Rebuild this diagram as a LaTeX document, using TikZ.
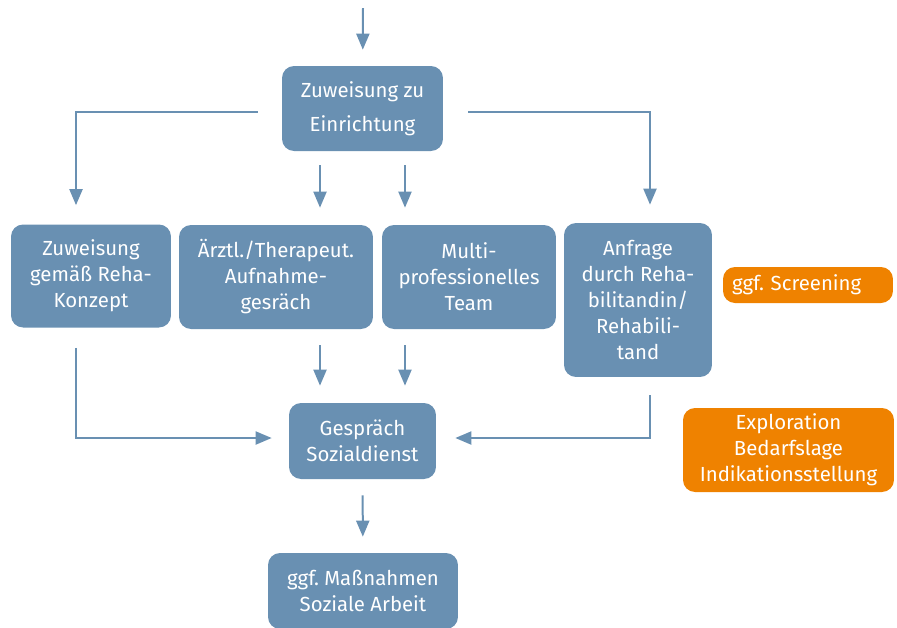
\documentclass[tikz,border=0pt]{standalone}
\usepackage{fontspec}
\setmainfont{Fira Sans}
\usetikzlibrary{arrows.meta}
\definecolor{rehablue}{HTML}{6990B2}
\definecolor{rehaorange}{HTML}{EF8200}
\frenchspacing
\tikzset{
	box/.style={fill=rehablue, text=white, rounded corners=0.24cm, align=center, inner sep=0pt, font=\fontsize{11.6}{14.8}\selectfont},
	hint/.style={box, fill=rehaorange},
	arr/.style={draw=rehablue, line width=0.04cm, -{Triangle[length=0.32cm,width=0.26cm]}},
}

\begin{document}
\begin{tikzpicture}[x=0.02cm, y=-0.02cm]
			\useasboundingbox (0,0) rectangle (897,627);
			\coordinate (start) at (363,8);
			\node	(ein) at (362.5,108.5) [box, minimum width=3.22cm, minimum height=1.7cm, font=\fontsize{11.6}{19.4}\selectfont] {Zuweisung zu\\Einrichtung};
			\node	(konz) at (91,276) [box, minimum width=3.2cm, minimum height=2.06cm] {Zuweisung\\gemäß Reha-\\Konzept};
			\node	(arzt) at (276,277) [box, minimum width=3.88cm, minimum height=2.08cm] {Ärztl./Therapeut.\\Aufnahme-\\gesräch};
			\node	(team) at (469,277) [box, minimum width=3.48cm, minimum height=2.08cm] {Multi-\\professionelles\\Team};
			\node	(anfr) at (638,300) [box, minimum width=2.96cm, minimum height=3.08cm] {Anfrage\\durch Reha-\\bilitandin/\\Rehabili-\\tand};
			\node	(scr) at (808,285) [hint, minimum height=0.72cm, text width=3.04cm, inner xsep=0.18cm, align=left] {ggf. Screening};
			\node	(gesp) at (362.5,441) [box, minimum width=2.94cm, minimum height=1.52cm] {Gespräch\\Sozialdienst};
			\node	(expl) at (788.5,450) [hint, minimum width=4.22cm, minimum height=1.68cm] {Exploration\\Bedarfslage\\Indikationsstellung};
			\node	(mass) at (363,591) [box, minimum width=3.8cm, minimum height=1.52cm] {ggf. Maßnahmen\\Soziale Arbeit};
			% straight arrows
			\draw 
			(start) edge[arr, shorten >=0.32cm] (ein)
			([xshift=-0.85cm]ein.south) edge[arr, shorten <=0.28cm, shorten >=0.34cm] ([xshift=-0.85cm]ein.south |- arzt.north)
			([xshift=0.85cm]ein.south) edge[arr, shorten <=0.28cm, shorten >=0.34cm] ([xshift=0.85cm]ein.south |- team.north)
			([xshift=-0.85cm]gesp.north |- arzt.south) edge[arr, shorten <=0.32cm, shorten >=0.34cm] ([xshift=-0.85cm]gesp.north)
			([xshift=0.85cm]gesp.north |- team.south) edge[arr, shorten <=0.32cm, shorten >=0.34cm] ([xshift=0.85cm]gesp.north)
			(gesp) edge[arr, shorten <=0.32cm, shorten >=0.32cm] (mass)
			;
			% elbow arrows
			\draw[arr, shorten <=0.48cm, shorten >=0.38cm] ([yshift=-0.07cm]ein.west) -| ([xshift=-0.3cm]konz.north);
			\draw[arr, shorten <=0.5cm, shorten >=0.36cm] ([yshift=-0.07cm]ein.east) -| ([xshift=0.24cm]anfr.north);
			\draw[arr, shorten <=0.4cm, shorten >=0.34cm] ([xshift=-0.3cm]konz.south) |- ([yshift=0.06cm]gesp.west);
			\draw[arr, shorten <=0.36cm, shorten >=0.38cm] ([xshift=0.24cm]anfr.south) |- ([yshift=0.06cm]gesp.east);
\end{tikzpicture}
\end{document}
